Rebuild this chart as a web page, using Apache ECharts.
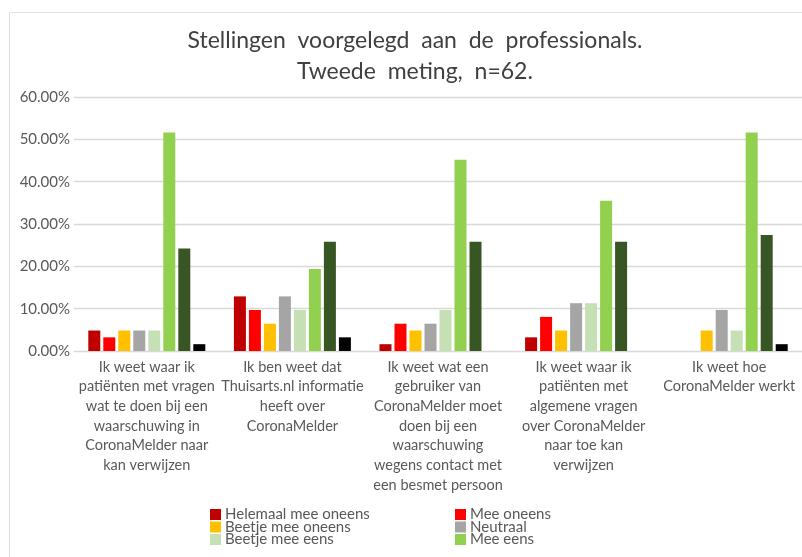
<!DOCTYPE html>
<html><head><meta charset="utf-8">
<script src="https://cdn.jsdelivr.net/npm/echarts@6/dist/echarts.min.js"></script>
<style>html,body{margin:0;padding:0;background:#fff}#c{width:802px;height:557px}</style>
</head><body><div id="c"></div>
<script>
const categories = [
  "Ik weet waar ik\npatiënten met vragen\nwat te doen bij een\nwaarschuwing in\nCoronaMelder naar\nkan verwijzen",
  "Ik ben weet dat\nThuisarts.nl informatie\nheeft over\nCoronaMelder",
  "Ik weet wat een\ngebruiker van\nCoronaMelder moet\ndoen bij een\nwaarschuwing\nwegens contact met\neen besmet persoon",
  "Ik weet waar ik\npatiënten met\nalgemene vragen\nover CoronaMelder\nnaar toe kan\nverwijzen",
  "Ik weet hoe\nCoronaMelder werkt"
];
const seriesNames = ["Helemaal mee oneens","Mee oneens","Beetje mee oneens","Neutraal","Beetje mee eens","Mee eens","Helemaal mee eens","Weet niet"];
const helemaalMeeOneens = [4.84, 12.90, 1.61, 3.23, 0];
const meeOneens         = [3.23, 9.68, 6.45, 8.06, 0];
const beetjeMeeOneens   = [4.84, 6.45, 4.84, 4.84, 4.84];
const neutraal          = [4.84, 12.90, 6.45, 11.29, 9.68];
const beetjeMeeEens     = [4.84, 9.68, 9.68, 11.29, 4.84];
const meeEens           = [51.61, 19.35, 45.16, 35.48, 51.61];
const helemaalMeeEens   = [24.19, 25.81, 25.81, 25.81, 27.42];
const weetNiet          = [1.61, 3.23, 0, 0, 1.61];
const yTicks = [0, 10, 20, 30, 40, 50, 60];

const values = [helemaalMeeOneens, meeOneens, beetjeMeeOneens, neutraal, beetjeMeeEens, meeEens, helemaalMeeEens, weetNiet];
const colors = ["#C00000","#FF0000","#FFC000","#A5A5A5","#C5E0B4","#92D050","#375623","#000000"];
const txt = "#595959";
const legendText = {fontFamily: 'Lato, sans-serif', fontSize: 15, color: txt, lineHeight: 12, padding: [0,0,0,-1]};
const chart = echarts.init(document.getElementById('c'));
chart.setOption({
  animation: false,
  backgroundColor: '#fff',
  graphic: [{type:'rect', shape:{x:9.5,y:12.5,width:820,height:600}, style:{fill:'none', stroke:'#e0e0e0', lineWidth:1}, silent:true}],
  title: {
    text: "Stellingen  voorgelegd  aan  de  professionals.\nTweede  meting,  n=62.",
    left: 410, top: 20, textAlign: 'center',
    textStyle: {fontFamily: "Lato, sans-serif", fontSize: 23, fontWeight: 'normal', color: '#404040', lineHeight: 31}
  },
  legend: [
    {data: [seriesNames[0], seriesNames[2], seriesNames[4]], orient: 'vertical', left: 210, top: 507, padding: 0,
     itemWidth: 11, itemHeight: 11, itemGap: -2.5, icon: 'rect', textStyle: legendText},
    {data: [seriesNames[1], seriesNames[3], seriesNames[5]], orient: 'vertical', left: 455, top: 507, padding: 0,
     itemWidth: 11, itemHeight: 11, itemGap: -2.5, icon: 'rect', textStyle: legendText}
  ],
  grid: {left: 74, top: 97, width: 730, height: 254},
  xAxis: {
    type: 'category', data: categories,
    axisLine: {lineStyle: {color: '#d9d9d9'}}, axisTick: {show: false},
    axisLabel: {interval: 0, fontFamily: 'Lato, sans-serif', fontSize: 14.5, color: txt, lineHeight: 19.7, margin: 6, align: 'center'}
  },
  yAxis: {
    type: 'value', min: yTicks[0], max: yTicks[yTicks.length-1], interval: 10,
    axisLine: {show: false}, axisTick: {show: false},
    splitLine: {lineStyle: {color: '#d9d9d9', width: 1.3}},
    axisLabel: {formatter: v => v.toFixed(2) + '%', fontFamily: 'Lato, sans-serif', fontSize: 15, color: txt, margin: 4}
  },
  series: seriesNames.map((n, i) => ({
    name: n, type: 'bar', data: values[i], barWidth: 12, barGap: '25%', barCategoryGap: '20%',
    itemStyle: {color: colors[i]}
  }))
});
</script></body></html>
